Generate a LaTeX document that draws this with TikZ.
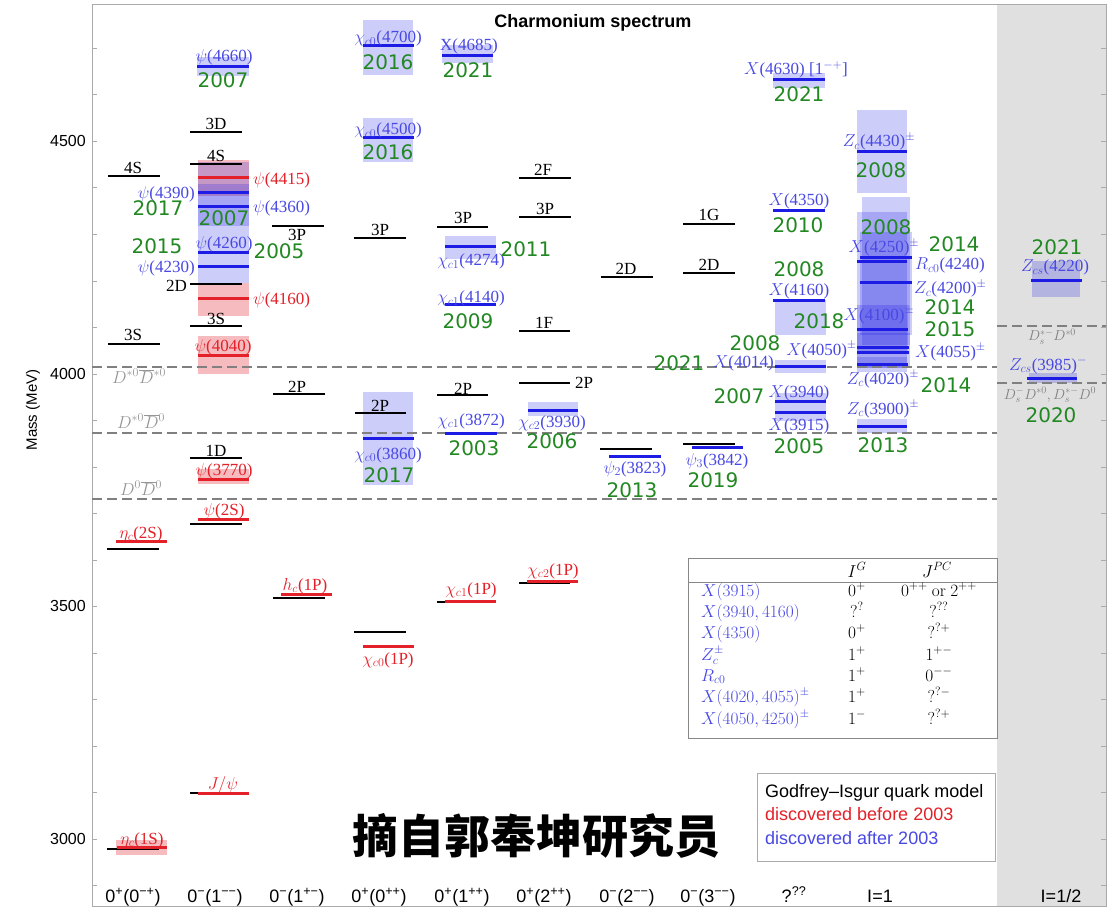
\documentclass[tikz,border=0pt]{standalone}
\usepackage[no-math]{fontspec}
\setmainfont{Liberation Serif}
\setsansfont{Liberation Sans}
\newfontfamily\yearfont{DejaVu Sans}
\newfontfamily\cjkfont{Noto Sans CJK SC}

\definecolor{lred}{RGB}{228,32,40}
\definecolor{lblue}{RGB}{72,72,228}
\definecolor{lineblue}{RGB}{28,28,228}
\definecolor{lgreen}{RGB}{34,136,34}
\definecolor{panelgray}{RGB}{224,224,224}
\definecolor{framegray}{RGB}{170,170,170}
\definecolor{thrgray}{RGB}{128,128,128}
\definecolor{thrtext}{RGB}{150,150,150}

\newcommand\labsize{\fontsize{17}{19}\selectfont}
\newcommand\smlabsize{\fontsize{14}{16}\selectfont}
\newcommand\yrsize{\fontsize{20}{22}\selectfont\yearfont}
\newcommand\axsize{\fontsize{16}{18}\selectfont\sffamily}
\newcommand\qnsize{\fontsize{18}{20}\selectfont\sffamily}
\newcommand\tabsize{\fontsize{17}{19}\selectfont}

\begin{document}
\begin{tikzpicture}[x=1pt,y=-1pt,
  gi/.style={line width=2.9pt, black},
  oldl/.style={line width=3pt, lred},
  newl/.style={line width=3pt, lineblue},
  lab/.style={inner sep=0pt, font=\labsize},
  gilab/.style={lab, text=black, anchor=base},
  oldlab/.style={lab, text=lred, anchor=base},
  newlab/.style={lab, text=lblue, anchor=base},
  yr/.style={inner sep=0pt, anchor=base, text=lgreen, font=\yrsize},
  bsh/.style={fill=lineblue, fill opacity=0.22},
  rsh/.style={fill=lred, fill opacity=0.3},
  thr/.style={line width=2.2pt, thrgray, dash pattern=on 10pt off 5pt},
  thrlab/.style={inner sep=0pt, font=\labsize, text=thrtext, anchor=base},
  axlab/.style={inner sep=0pt, anchor=base, font=\axsize},
  qnlab/.style={inner sep=0pt, anchor=base, font=\qnsize},
  tick/.style={framegray, line width=0.8pt},
  tab/.style={inner sep=0pt, font=\tabsize, anchor=base},
]
\useasboundingbox (0,0) rectangle (1119,909);
\fill[white] (0,0) rectangle (1119,909);

% isospin-1/2 panel and frame
\fill[panelgray] (997,5) rectangle (1106,906);
\draw[framegray, line width=1pt] (92,5) rectangle (1106,906);
\foreach \m in {2900,3000,...,4700}{
  \draw[tick] (92,{374-(\m-4000)*0.4653}) -- ++(5,0);
  \draw[tick] (1106,{374-(\m-4000)*0.4653}) -- ++(-5,0);
}
\node[axlab, anchor=east] (t3000) at (86,839) {3000};
\node[axlab, anchor=east] (t3500) at (86,606) {3500};
\node[axlab, anchor=east] (t4000) at (86,374) {4000};
\node[axlab, anchor=east] (t4500) at (86,141) {4500};
\node[inner sep=0pt, rotate=90, font=\fontsize{15}{17}\selectfont\sffamily] (ylabel) at (33,410) {Mass (MeV)};
\node[inner sep=0pt, anchor=base, font=\fontsize{18}{20}\selectfont\sffamily\bfseries] (title) at (593,28) {Charmonium spectrum};

% widths of the states
\fill[bsh] (197,57) rectangle (249,76);
\fill[rsh] (198,160) rectangle (249,196);
\fill[bsh] (198,162) rectangle (249,226);
\fill[bsh] (198,184) rectangle (249,230);
\fill[bsh] (198,230) rectangle (249,283);
\fill[rsh] (198,283) rectangle (249,316);
\fill[rsh] (198,336) rectangle (249,374);
\fill[rsh] (198,469) rectangle (249,484);
\fill[rsh] (116,840) rectangle (167,855);
\fill[bsh] (363,20) rectangle (413,75);
\fill[bsh] (363,118) rectangle (413,162);
\fill[bsh] (363,392) rectangle (413,485);
\fill[bsh] (442,45) rectangle (493,63);
\fill[bsh] (445,236) rectangle (496,259);
\fill[bsh] (528,402) rectangle (578,416);
\fill[bsh] (773,73) rectangle (825,88);
\fill[bsh] (775,300) rectangle (826,335);
\fill[bsh] (775,360) rectangle (826,373);
\fill[bsh] (775,393) rectangle (826,421);
\fill[bsh] (857,110) rectangle (907,193);
\fill[bsh] (862,197) rectangle (910,345);
\fill[bsh] (857,212) rectangle (907,368);
\fill[bsh] (860,232) rectangle (912,335);
\fill[bsh] (857,305) rectangle (908,352);
\fill[bsh] (857,333) rectangle (910,368);
\fill[bsh] (857,357) rectangle (907,372);
\fill[bsh] (857,419) rectangle (907,433);
\fill[bsh] (1032,261) rectangle (1080,297);
\fill[bsh] (1029,373) rectangle (1077,383);

% open-charm thresholds
\draw[thr] (92,367) -- (997,367);
\draw[thr] (92,433) -- (997,433);
\draw[thr] (92,499) -- (997,499);
\draw[thr] (997,326) -- (1106,326);
\draw[thr] (997,383) -- (1106,383);
\node[thrlab] (thDsDs) at (139,383) {$D^{*0}\overline{D}{}^{*0}$};
\node[thrlab] (thDsD) at (141,428) {$D^{*0}\overline{D}{}^{0}$};
\node[thrlab] (thDD) at (141,495) {$D^{0}\overline{D}{}^{0}$};
\node[thrlab, font=\smlabsize, text=thrgray] (thDsA) at (1052,341) {$D_s^{*-}D^{*0}$};
\node[thrlab, font=\smlabsize, text=thrgray] (thDsB) at (1050,399) {$D_s^{-}D^{*0}, D_s^{*-}D^{0}$};

% 0+(0-+)
\draw[gi] (108,176) -- ++(52,0);
\draw[gi] (108,344) -- ++(52,0);
\draw[gi] (107,549) -- ++(52,0);
\draw[oldl] (116,541) -- ++(51,0);
\draw[gi] (107,849) -- ++(52,0);
\draw[oldl] (117,847) -- ++(50,0);
\node[gilab] (a4S) at (133,174) {4S};
\node[gilab] (a3S) at (133,341) {3S};
\node[oldlab] (etac2S) at (141,538) {$\eta_c$(2S)};
\node[oldlab] (etac1S) at (142,844) {$\eta_c$(1S)};

% 0-(1--)
\draw[newl] (197,67) -- ++(52,0);
\draw[gi] (190,132) -- ++(52,0);
\draw[gi] (190,164) -- ++(52,0);
\draw[oldl] (198,178) -- ++(51,0);
\draw[newl] (198,193) -- ++(51,0);
\draw[newl] (198,207) -- ++(51,0);
\draw[newl] (198,253) -- ++(51,0);
\draw[newl] (198,267) -- ++(51,0);
\draw[gi] (190,284) -- ++(52,0);
\draw[oldl] (198,299) -- ++(51,0);
\draw[gi] (190,326) -- ++(52,0);
\draw[oldl] (198,355) -- ++(51,0);
\draw[gi] (190,458) -- ++(52,0);
\draw[oldl] (198,479) -- ++(51,0);
\draw[gi] (190,524) -- ++(52,0);
\draw[oldl] (198,519) -- ++(51,0);
\draw[gi] (190,793) -- ++(52,0);
\draw[oldl] (198,793) -- ++(51,0);
\node[newlab] (psi4660) at (224,62) {$\psi$(4660)};
\node[yr] (y4660) at (223,88) {2007};
\node[gilab] (b3D) at (216,130) {3D};
\node[gilab] (b4S) at (216,162) {4S};
\node[lab, text=lred, anchor=west] (psi4415) at (253,180) {$\psi$(4415)};
\node[lab, text=lblue, anchor=east] (psi4390) at (195,194) {$\psi$(4390)};
\node[lab, text=lblue, anchor=west] (psi4360) at (253,208) {$\psi$(4360)};
\node[yr] (y4390) at (158,216) {2017};
\node[yr] (y4360) at (224,226) {2007};
\node[yr] (y4230) at (157,254) {2015};
\node[newlab] (psi4260) at (224,249) {$\psi$(4260)};
\node[yr] (y4260) at (279,259) {2005};
\node[lab, text=lblue, anchor=east] (psi4230) at (195,268) {$\psi$(4230)};
\node[gilab, anchor=base east] (b2D) at (187,292) {2D};
\node[lab, text=lred, anchor=west] (psi4160) at (253,300) {$\psi$(4160)};
\node[gilab] (b3S) at (216,324) {3S};
\node[oldlab] (psi4040) at (223,351) {$\psi$(4040)};
\node[gilab] (b1D) at (216,456) {1D};
\node[oldlab] (psi3770) at (224,475) {$\psi$(3770)};
\node[oldlab] (psi2S) at (224,515) {$\psi$(2S)};
\node[oldlab] (jpsi) at (223,789) {$J/\psi$};

% 0-(1+-)
\draw[gi] (272,226) -- ++(52,0);
\draw[gi] (273,394) -- ++(52,0);
\draw[gi] (273,598) -- ++(52,0);
\draw[oldl] (281,594) -- ++(51,0);
\node[gilab] (c3P) at (297,241) {3P};
\node[gilab] (c2P) at (297,392) {2P};
\node[oldlab] (hc1P) at (305,590) {$h_c$(1P)};

% 0+(0++)
\draw[newl] (363,46) -- ++(51,0);
\draw[newl] (363,138) -- ++(51,0);
\draw[gi] (354,238) -- ++(52,0);
\draw[gi] (355,413) -- ++(51,0);
\draw[newl] (363,438) -- ++(51,0);
\draw[gi] (354,632) -- ++(52,0);
\draw[oldl] (363,646) -- ++(51,0);
\node[newlab] (chi4700) at (388,43) {$\chi_{c0}$(4700)};
\node[yr] (y4700) at (388,70) {2016};
\node[newlab] (chi4500) at (388,135) {$\chi_{c0}$(4500)};
\node[yr] (y4500) at (388,160) {2016};
\node[gilab] (d3P) at (380,236) {3P};
\node[gilab] (d2P) at (380,411) {2P};
\node[newlab] (chi3860) at (388,459) {$\chi_{c0}$(3860)};
\node[yr] (y3860) at (389,482) {2017};
\node[oldlab] (chi0P) at (388,664) {$\chi_{c0}$(1P)};

% 0+(1++)
\draw[newl] (442,56) -- ++(51,0);
\draw[gi] (437,227) -- ++(51,0);
\draw[newl] (445,247) -- ++(51,0);
\draw[newl] (445,305) -- ++(51,0);
\draw[gi] (437,395) -- ++(51,0);
\draw[newl] (445,433) -- ++(52,0);
\draw[gi] (437,602) -- ++(51,0);
\draw[oldl] (445,601) -- ++(51,0);
\node[newlab] (x4685) at (469,51) {X(4685)};
\node[yr] (y4685) at (468,78) {2021};
\node[gilab] (e3P) at (463,224) {3P};
\node[newlab] (chi4274) at (471,266) {$\chi_{c1}$(4274)};
\node[yr] (y4274) at (526,257) {2011};
\node[newlab] (chi4140) at (471,303) {$\chi_{c1}$(4140)};
\node[yr] (y4140) at (468,328) {2009};
\node[gilab] (e2P) at (463,394) {2P};
\node[newlab] (chi3872) at (471,425) {$\chi_{c1}$(3872)};
\node[yr] (y3872) at (474,455) {2003};
\node[oldlab] (chi1P) at (471,594) {$\chi_{c1}$(1P)};

% 0+(2++)
\draw[gi] (519,178) -- ++(52,0);
\draw[gi] (519,217) -- ++(52,0);
\draw[gi] (519,331) -- ++(51,0);
\draw[gi] (519,383) -- ++(51,0);
\draw[newl] (528,410) -- ++(50,0);
\draw[gi] (519,583) -- ++(51,0);
\draw[oldl] (527,581) -- ++(51,0);
\node[gilab] (f2F) at (543,176) {2F};
\node[gilab] (f3P) at (545,215) {3P};
\node[gilab] (f1F) at (544,329) {1F};
\node[lab, anchor=west] (f2P) at (575,383) {2P};
\node[newlab] (chi3930) at (552,427) {$\chi_{c2}$(3930)};
\node[yr] (y3930) at (552,448) {2006};
\node[oldlab] (chi2P) at (553,575) {$\chi_{c2}$(1P)};

% 0-(2--)
\draw[gi] (601,277) -- ++(52,0);
\draw[gi] (600,449) -- ++(52,0);
\draw[newl] (609,456) -- ++(52,0);
\node[gilab] (g2D) at (626,275) {2D};
\node[newlab] (psi3823) at (635,473) {$\psi_2$(3823)};
\node[yr] (y3823) at (632,497) {2013};

% 0-(3--)
\draw[gi] (683,224) -- ++(52,0);
\draw[gi] (683,273) -- ++(52,0);
\draw[gi] (683,444) -- ++(52,0);
\draw[newl] (692,447) -- ++(51,0);
\node[gilab] (h1G) at (709,221) {1G};
\node[gilab] (h2D) at (709,271) {2D};
\node[newlab] (psi3842) at (717,465) {$\psi_3$(3842)};
\node[yr] (y3842) at (713,487) {2019};

% unknown quantum numbers
\draw[newl] (773,80) -- ++(52,0);
\draw[newl] (773,211) -- ++(52,0);
\draw[newl] (773,301) -- ++(52,0);
\draw[newl] (775,366) -- ++(51,0);
\draw[newl] (775,401) -- ++(51,0);
\draw[newl] (775,412) -- ++(51,0);
\node[newlab] (x4630) at (796,75) {$X$(4630) [1$^{-+}$]};
\node[yr] (y4630) at (799,102) {2021};
\node[newlab] (x4350) at (799,206) {$X$(4350)};
\node[yr] (y4350) at (798,233) {2010};
\node[yr] (y4160) at (799,277) {2008};
\node[newlab] (x4160) at (799,296) {$X$(4160)};
\node[yr] (y4160b) at (819,328) {2018};
\node[newlab, anchor=base east] (x4014) at (774,367) {$X$(4014)};
\node[yr] (y4014) at (679,370) {2021};
\node[newlab] (x3940) at (799,397) {$X$(3940)};
\node[yr] (y3940) at (739,403) {2007};
\node[newlab] (x3915) at (799,430) {$X$(3915)};
\node[yr] (y3915) at (799,453) {2005};

% isospin 1
\draw[newl] (857,152) -- ++(50,0);
\draw[newl] (860,258) -- ++(52,0);
\draw[newl] (857,262) -- ++(50,0);
\draw[newl] (860,283) -- ++(52,0);
\draw[newl] (857,329) -- ++(51,0);
\draw[newl] (857,347) -- ++(52,0);
\draw[newl] (857,352) -- ++(52,0);
\draw[newl] (857,364) -- ++(51,0);
\draw[newl] (857,426) -- ++(50,0);
\node[newlab] (zc4430) at (879,147) {$Z_c$(4430)$^\pm$};
\node[yr] (y4430) at (881,178) {2008};
\node[yr] (y4250) at (886,235) {2008};
\node[newlab] (x4250) at (884,253) {$X$(4250)$^\pm$};
\node[yr] (y4240) at (954,252) {2014};
\node[newlab, anchor=base west] (rc4240) at (915,270) {$R_{c0}$(4240)};
\node[newlab, anchor=base west] (zc4200) at (914,294) {$Z_c$(4200)$^\pm$};
\node[yr] (y4200) at (950,315) {2014};
\node[newlab] (x4100) at (879,320) {$X$(4100)$^\pm$};
\node[yr] (y4100) at (950,337) {2015};
\node[newlab, anchor=base west] (x4055) at (915,357) {$X$(4055)$^\pm$};
\node[newlab, anchor=base east] (x4050) at (857,355) {$X$(4050)$^\pm$};
\node[yr] (y4050) at (755,350) {2008};
\node[newlab] (zc4020) at (883,384) {$Z_c$(4020)$^\pm$};
\node[yr] (y4020) at (946,392) {2014};
\node[newlab] (zc3900) at (883,414) {$Z_c$(3900)$^\pm$};
\node[yr] (y3900) at (883,452) {2013};

% isospin 1/2
\draw[newl] (1031,281) -- ++(51,0);
\draw[newl] (1027,378) -- ++(50,0);
\node[yr] (y4220) at (1057,255) {2021};
\node[newlab] (zcs4220) at (1055,272) {$Z_{cs}$(4220)};
\node[newlab] (zcs3985) at (1048,370) {$Z_{cs}$(3985)$^-$};
\node[yr] (y3985) at (1051,422) {2020};

% quantum-number table
\draw[framegray!80!black, line width=1pt, fill=white] (688,558) rectangle (997,738);
\draw[framegray!80!black, line width=0.8pt] (688,582) -- (997,582);
\node[tab] (hIG) at (857,577) {$I^G$};
\node[tab] (hJPC) at (937,577) {$J^{PC}$};
\foreach \n/\yy/\na/\ig/\jpc in {
  r1/596/{X(3915)}/{0^+}/{0^{++}\ \mathrm{or}\ 2^{++}},
  r2/617/{X(3940,4160)}/{?^?}/{?^{??}},
  r3/638/{X(4350)}/{0^+}/{?^{?+}},
  r4/660/{Z_c^\pm}/{1^+}/{1^{+-}},
  r5/681/{R_{c0}}/{1^+}/{0^{--}},
  r6/702/{X(4020,4055)^\pm}/{1^+}/{?^{?-}},
  r7/724/{X(4050,4250)^\pm}/{1^-}/{?^{?+}}}{
  \node[tab, anchor=base west, text=lblue] (\n a) at (701,\yy) {$\na$};
  \node[tab] (\n b) at (857,\yy) {$\ig$};
  \node[tab] (\n c) at (939,\yy) {$\jpc$};
}

% legend
\draw[framegray, line width=1pt, fill=white] (757,773) rectangle (995,861);
\node[inner sep=0pt, anchor=base west, font=\fontsize{18}{20}\selectfont\sffamily] (legGI) at (765,797) {Godfrey–Isgur quark model};
\node[inner sep=0pt, anchor=base west, font=\fontsize{18}{20}\selectfont\sffamily, text=lred] (legOld) at (765,820) {discovered before 2003};
\node[inner sep=0pt, anchor=base west, font=\fontsize{18}{20}\selectfont\sffamily, text=lblue] (legNew) at (765,844) {discovered after 2003};

% attribution
\node[inner sep=0pt, font=\fontsize{46}{50}\selectfont\cjkfont\bfseries] (src) at (536,836) {摘自郭奉坤研究员};

% quantum-number columns
\node[qnlab] (q1) at (133,902) {0\textsuperscript{+}(0\textsuperscript{−+})};
\node[qnlab] (q2) at (215,902) {0\textsuperscript{−}(1\textsuperscript{−−})};
\node[qnlab] (q3) at (297,902) {0\textsuperscript{−}(1\textsuperscript{+−})};
\node[qnlab] (q4) at (379,902) {0\textsuperscript{+}(0\textsuperscript{++})};
\node[qnlab] (q5) at (462,902) {0\textsuperscript{+}(1\textsuperscript{++})};
\node[qnlab] (q6) at (544,902) {0\textsuperscript{+}(2\textsuperscript{++})};
\node[qnlab] (q7) at (627,902) {0\textsuperscript{−}(2\textsuperscript{−−})};
\node[qnlab] (q8) at (708,902) {0\textsuperscript{−}(3\textsuperscript{−−})};
\node[qnlab] (q9) at (794,902) {?\textsuperscript{??}};
\node[qnlab] (q10) at (880,902) {I=1};
\node[qnlab] (q11) at (1061,902) {I=1/2};
\end{tikzpicture}
\end{document}
